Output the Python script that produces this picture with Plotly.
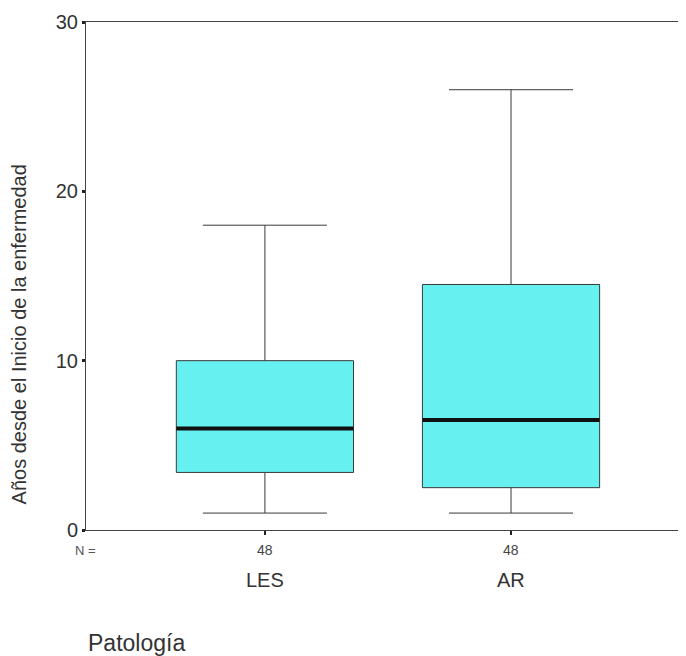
import plotly.graph_objects as go

categories = ["LES", "AR"]
n_counts = [48, 48]
lower_whisker = [1.0, 1.0]
q1_values = [3.4, 2.5]
median_values = [6.0, 6.5]
q3_values = [10.0, 14.5]
upper_whisker = [18.0, 26.0]
y_ticks = [0, 10, 20, 30]

font_family = "Liberation Sans, Arial, sans-serif"
box_width = 0.72

fig = go.Figure()
fig.add_trace(go.Box(
    x=categories,
    q1=q1_values, median=median_values, q3=q3_values,
    lowerfence=lower_whisker, upperfence=upper_whisker,
    fillcolor="#66F0F0",
    line=dict(color="#3a3a3a", width=1),
    width=box_width,
    whiskerwidth=0.7,
    boxpoints=False,
    showlegend=False,
    hoverinfo="skip",
))

# thick median lines
for i, m in enumerate(median_values):
    fig.add_shape(type="line", xref="x", yref="y",
                  x0=i - box_width / 2, x1=i + box_width / 2, y0=m, y1=m,
                  line=dict(color="#111111", width=4))

# N counts and category labels
fig.add_annotation(text="N =", xref="paper", yref="paper", x=0.0, y=0,
                   xshift=12, yshift=-20, xanchor="right", yanchor="middle", showarrow=False,
                   font=dict(family=font_family, size=13, color="#555555"))
for i, (c, n) in enumerate(zip(categories, n_counts)):
    fig.add_annotation(text=str(n), xref="x", yref="paper", x=i, y=0,
                       yshift=-20, yanchor="middle", showarrow=False,
                       font=dict(family=font_family, size=14, color="#444444"))
    fig.add_annotation(text=c, xref="x", yref="paper", x=i, y=0,
                       yshift=-50, yanchor="middle", showarrow=False,
                       font=dict(family=font_family, size=20, color="#333333"))

fig.add_annotation(text="Patología", xref="paper", yref="paper", x=0.0, y=0,
                   yshift=-113, xanchor="left", yanchor="middle", showarrow=False,
                   font=dict(family=font_family, size=23, color="#333333"))

fig.add_annotation(text="Años desde el Inicio de la enfermedad", textangle=-90,
                   xref="paper", yref="paper", x=0, xshift=-67, y=0.385,
                   xanchor="center", yanchor="middle", showarrow=False,
                   font=dict(family=font_family, size=20, color="#333333"))

fig.update_layout(
    width=678, height=648,
    margin=dict(l=78, r=0, t=14, b=126, autoexpand=False),
    paper_bgcolor="white", plot_bgcolor="white",
    font=dict(family=font_family, color="#333333"),
    showlegend=False,
)
fig.update_xaxes(
    type="category", range=[-0.727, 1.711], automargin=False,
    showticklabels=False, ticks="outside", ticklen=4, tickwidth=2,
    tickcolor="#222222",
    showline=True, linecolor="#444444", linewidth=1, mirror=True,
    showgrid=False, zeroline=False,
)
fig.update_yaxes(
    range=[0, 30], tickvals=y_ticks, automargin=False,
    ticks="outside", ticklen=3, tickwidth=3, tickcolor="#222222",
    tickfont=dict(family=font_family, size=20, color="#333333"),
    showline=True, linecolor="#444444", linewidth=1,
    showgrid=False, zeroline=False,
)

fig.write_html("out.html")
